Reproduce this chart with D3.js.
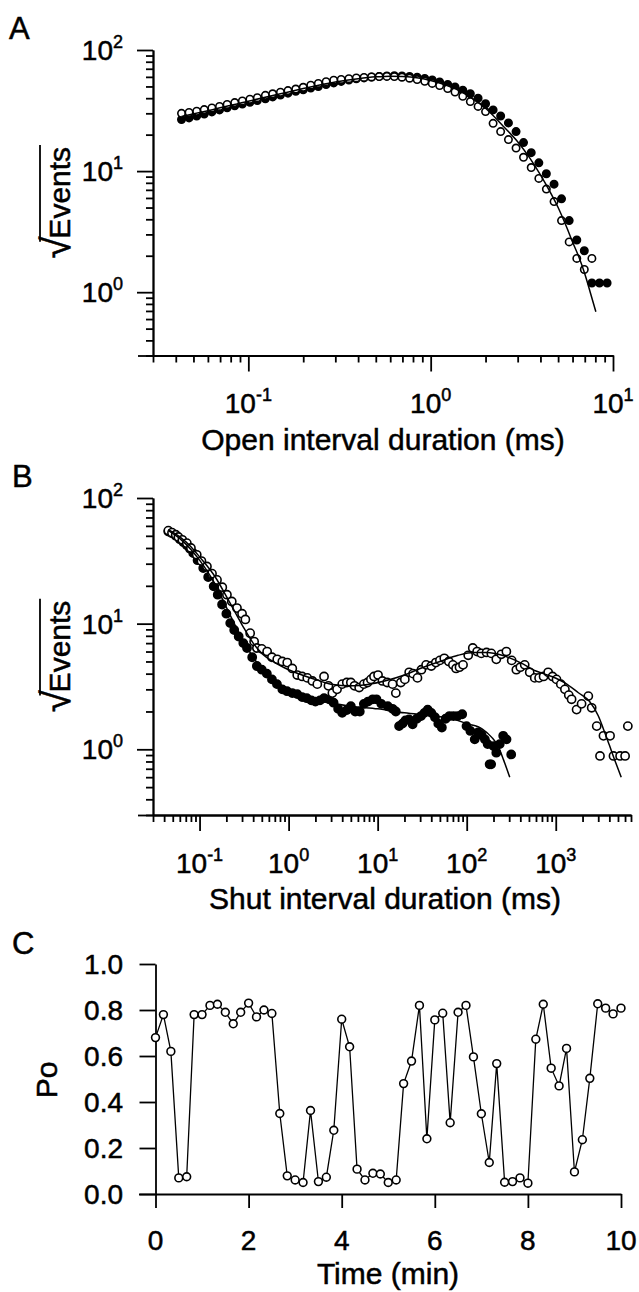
<!DOCTYPE html>
<html>
<head>
<meta charset="utf-8">
<script src="https://cdn.jsdelivr.net/npm/d3@7"></script>
<style>
  body { margin: 0; background: #fff; }
  text { font-family: "Liberation Sans", Arial, Helvetica, sans-serif; fill: #000;
         stroke: #000; stroke-width: 0.5px; }
</style>
</head>
<body>
<svg id="chart" width="639" height="1292"></svg>
<script>
// ---- panel A: open intervals ----
const aBins = [0.043,0.0473,0.0521,0.0573,0.0631,0.0695,0.0765,0.0842,0.0927,0.102,
  0.112,0.124,0.136,0.150,0.165,0.182,0.200,0.220,0.242,0.267,
  0.294,0.323,0.356,0.391,0.431,0.474,0.522,0.575,0.632,0.696,
  0.766,0.843,0.928,1.02,1.12,1.24,1.36,1.50,1.65,1.82,
  2.00,2.20,2.42,2.67,2.94,3.23,3.56,3.92,4.31,4.75,
  5.22,5.75,6.33,6.96,7.66,8.43,9.28];
const aOpen = [30,30.5,31.2,32.2,33.2,34.2,35.5,36.8,38.0,39.2,
  40.4,42.2,43.5,44.8,46.2,47.6,49.2,51.2,53.0,54.8,
  56.3,57.2,58.0,58.8,59.4,59.9,60.3,60.5,60.3,59.6,
  58.5,57.0,55.2,53.0,50.8,48.0,45.0,41.5,37.5,34.2,
  31.0,24.8,21.2,18.2,15.5,13.0,10.7,8.7,7.1,5.6,
  3.9,2.6,1.9,1.54,1.9,null,null];
const aFilled = [26.7,27.5,28.5,29.6,30.8,32.0,33.3,34.6,35.8,37.0,
  38.2,39.6,41.0,42.5,44.0,45.6,47.0,48.5,50.0,51.8,
  53.5,55.0,56.5,57.8,58.8,59.8,60.5,61.0,61.3,61.0,
  60.5,59.5,58.2,56.5,54.5,52.0,49.5,46.5,43.5,40.0,
  36.0,32.0,28.5,25.0,21.2,17.2,14.2,11.7,9.5,7.8,
  5.9,3.9,2.7,2.2,1.19,1.19,1.19];
const aFitX = [0.043,0.06,0.1,0.15,0.2,0.3,0.4,0.5,0.6,0.7,0.8,1.0,1.2,1.5,2.0,2.5,3.0,3.5,4.0,4.5,5.0,5.5,6.0,6.5,7.0,7.5,8.05];
const aFitY = [28.3,31.5,37.8,43.5,48,54.5,58,60,60.8,60.5,59.5,56,51.5,44.5,33,23.5,17.5,12.8,9.3,6.8,5.0,3.6,2.6,1.95,1.42,1.0,0.69];
const aXMajor = [0.1, 1, 10];

// ---- panel B: shut intervals ----
const bOpenX = [0.0446,0.049,0.054,0.0578,0.064,0.072,0.08,0.093,0.105,0.121,
  0.138,0.157,0.18,0.203,0.23,0.263,0.3,0.327,0.37,0.41,
  0.44,0.5,0.574,0.65,0.745,0.85,0.965,1.1,1.25,1.42,
  1.62,1.85,2.1,2.5,2.8,3.1,3.5,4.0,4.5,5.0,
  5.5,6.2,7.0,7.7,8.4,9.1,10.1,11.3,12.8,14.7,
  16,18.2,20.2,22.6,25,28,31,35,40,45,
  50,56,63,70,76,83,91,104,117,131,
  146,167,189,215,245,279,320,361,400,448,
  510,581,650,730,822,920,1020,1140,1267,1400,
  1506,1714,1950,2322,2533,2885,3140,3434,4074,4450,
  5280,6010,6450];
const bOpenY = [55,53,51,49,46.5,43.7,40,35.3,31.5,28.5,
  25,22.3,19.5,17,15,13.3,12,10.8,8.4,7.2,
  6.4,6.3,6.0,5.4,5.2,5.0,4.9,4.4,3.9,3.8,
  3.7,3.5,3.3,3.8,3.2,2.8,3.0,3.3,3.4,3.4,
  3.2,3.1,3.3,3.4,3.6,3.8,3.9,3.5,3.4,3.3,
  2.8,3.4,3.6,4.1,4.0,3.7,4.3,4.7,4.6,4.9,
  5.1,5.3,5.0,4.7,4.4,4.5,4.7,5.6,6.4,6.0,
  5.8,5.9,5.8,5.2,5.7,6.0,5.1,4.3,4.5,4.7,
  4.1,3.7,3.7,3.8,4.1,3.8,3.6,3.3,3.0,2.7,
  2.5,2.07,2.3,2.65,2.14,1.53,0.885,1.28,1.28,0.885,
  0.885,0.885,1.53];
const bFilledX = [0.0446,0.049,0.054,0.06,0.066,0.072,0.078,0.085,0.095,0.11,
  0.125,0.144,0.16,0.179,0.2,0.221,0.245,0.275,0.31,0.341,
  0.39,0.44,0.5,0.57,0.65,0.74,0.85,0.96,1.1,1.25,
  1.42,1.6,1.8,2.0,2.25,2.5,2.85,3.2,3.6,4.0,
  4.5,5.0,5.6,6.3,7.0,7.8,8.8,9.7,11,13,
  14.7,16,17.4,19,20.5,22.5,24.7,27.5,30.7,33.5,
  36.5,40,44,48,52.6,58,64,71,79,89,
  99.5,110,123,134,147,160,172,181,188,200,
  215,235,257,280,316];
const bFilledY = [54,52.5,50,47,44.5,42,39.5,36.4,32,27.7,
  23.5,19.8,17,14.2,12,10.1,8.9,7.9,7.0,6.4,
  5.4,4.6,4.3,4.0,3.6,3.3,3.0,2.9,2.8,2.75,
  2.6,2.55,2.45,2.4,2.45,2.55,2.5,2.35,2.1,1.95,
  2.05,2.2,2.0,2.0,2.3,2.4,2.5,2.5,2.3,2.2,
  2.1,2.0,1.53,1.6,1.7,1.73,1.58,1.75,1.84,1.95,
  2.07,1.95,1.8,1.6,1.49,1.75,1.84,1.84,1.84,1.9,
  1.53,1.4,1.2,1.36,1.3,1.2,1.1,0.76,0.76,1.06,
  0.94,1.1,1.28,1.2,0.91];
const bOpenFitX = [0.0446,0.06,0.08,0.1,0.15,0.2,0.3,0.4,0.5,0.7,1,2,3,5,8,12,20,30,50,80,120,170,250,400,600,900,1268,1795,2400,3000,3500,4000,4600,5430];
const bOpenFitY = [56,49,41,34,23.5,16.5,9.8,7.0,5.8,4.9,4.3,3.6,3.3,3.2,3.3,3.5,3.9,4.4,5.0,5.6,5.9,5.9,5.6,4.9,4.2,3.8,3.38,2.82,2.4,1.85,1.4,1.08,0.82,0.6];
const bFilledFitX = [0.0446,0.06,0.08,0.1,0.15,0.2,0.3,0.4,0.5,0.7,1,2,5,10,20,40,70,100,150,190,225,260,304];
const bFilledFitY = [55,47.5,39,32,20.5,13.5,7.6,5.4,4.4,3.5,3.0,2.5,2.2,2.1,1.95,1.85,1.75,1.6,1.45,1.25,1.06,0.82,0.6];
const bXMajor = [0.1, 1, 10, 100, 1000];
const logYMajor = [1, 10, 100];

// ---- panel C: Po over time ----
const cTime = [0,0.17,0.33,0.5,0.67,0.83,1,1.17,1.33,1.5,
  1.67,1.83,2,2.17,2.33,2.5,2.67,2.83,3,3.17,
  3.33,3.5,3.67,3.83,4,4.17,4.33,4.5,4.67,4.83,
  5,5.17,5.33,5.5,5.67,5.83,6,6.17,6.33,6.5,
  6.67,6.83,7,7.17,7.33,7.5,7.67,7.83,8,8.17,
  8.33,8.5,8.67,8.83,9,9.17,9.33,9.5,9.67,9.83,10];
const cPo = [0.68,0.78,0.62,0.07,0.075,0.78,0.78,0.82,0.825,0.79,
  0.74,0.79,0.83,0.77,0.80,0.785,0.35,0.079,0.061,0.05,
  0.363,0.054,0.073,0.277,0.76,0.64,0.108,0.061,0.09,0.087,
  0.05,0.061,0.48,0.578,0.82,0.24,0.757,0.786,0.31,0.79,
  0.82,0.596,0.349,0.137,0.567,0.051,0.054,0.07,0.047,0.673,
  0.825,0.547,0.47,0.633,0.096,0.236,0.503,0.827,0.808,0.783,0.808];
const cXTicks = [0, 2, 4, 6, 8, 10];
const cYTicks = [0, 0.2, 0.4, 0.6, 0.8, 1.0];

const svg = d3.select("#chart");
const AX = 1.8;

function styleAxis(g) {
  g.selectAll("path, line").attr("stroke", "#000").attr("stroke-width", AX);
}

function isMajor(v) {
  const l = Math.log10(v);
  return Math.abs(l - Math.round(l)) < 1e-6;
}

function powLabel(sel, v) {
  sel.append("tspan").text("10");
  sel.append("tspan").attr("dy", -12).attr("font-size", 18).text(Math.round(Math.log10(v)));
}

// sqrt(Events) axis title, rotated; the radical is a larger glyph with a bar drawn over the word
function sqrtLabel(cx, cy) {
  const tr = `translate(${cx},${cy}) rotate(-90)`;
  const t = svg.append("text").attr("transform", tr)
    .attr("text-anchor", "middle").attr("font-size", 30);
  t.append("tspan").attr("font-size", 40).text("√");
  t.append("tspan").attr("dx", -2).text("Events");
  const node = t.node();
  const full = node.getComputedTextLength();
  const rw = node.getSubStringLength(0, 1);
  svg.append("line").attr("transform", tr)
    .attr("x1", -full / 2 + rw - 4).attr("x2", full / 2 + 1)
    .attr("y1", -30).attr("y2", -30)
    .attr("stroke", "#000").attr("stroke-width", AX);
}

function logPanel(p) {
  const g = svg.append("g");
  const x = d3.scaleLog().domain(p.xDomain).range(p.xRange);
  const y = d3.scaleLog().domain(p.yDomain).range(p.yRange);
  const xMinor = x.ticks().filter(v => !isMajor(v));
  const yMinor = y.ticks().filter(v => !isMajor(v));
  const x0 = p.xRange[0], yb = p.yRange[0];

  g.append("g").attr("transform", `translate(0,${yb})`)
    .call(d3.axisBottom(x).tickValues(xMinor).tickSize(7).tickSizeOuter(0).tickFormat(""))
    .call(styleAxis);
  g.append("g").attr("transform", `translate(0,${yb})`)
    .call(d3.axisBottom(x).tickValues(p.xMajor).tickSize(16).tickSizeOuter(0).tickFormat(""))
    .call(styleAxis);
  g.append("g").attr("transform", `translate(${x0},0)`)
    .call(d3.axisLeft(y).tickValues(yMinor).tickSize(7).tickSizeOuter(0).tickFormat(""))
    .call(styleAxis);
  g.append("g").attr("transform", `translate(${x0},0)`)
    .call(d3.axisLeft(y).tickValues(logYMajor).tickSize(16).tickSizeOuter(0).tickFormat(""))
    .call(styleAxis);
  g.append("line").attr("x1", x0 - 15).attr("x2", x0).attr("y1", yb + 0.5).attr("y2", yb + 0.5)
    .attr("stroke", "#000").attr("stroke-width", AX);

  p.xMajor.forEach(v => {
    g.append("text").attr("x", x(v)).attr("y", p.xLabelY)
      .attr("text-anchor", "middle").attr("font-size", 28).call(powLabel, v);
  });
  logYMajor.forEach(v => {
    g.append("text").attr("x", 123).attr("y", y(v) + 10)
      .attr("text-anchor", "end").attr("font-size", 28).call(powLabel, v);
  });

  g.append("text").attr("x", p.titleX).attr("y", p.titleY)
    .attr("text-anchor", "middle").attr("font-size", 30).text(p.title);
  g.append("text").attr("x", p.letterX).attr("y", p.letterY)
    .attr("font-size", 31).text(p.letter);

  p.series.forEach(s => {
    const pts = d3.zip(s.x, s.y).filter(d => d[1] != null);
    g.append("g").selectAll("circle").data(pts).join("circle")
      .attr("cx", d => x(d[0])).attr("cy", d => y(d[1])).attr("r", p.r)
      .attr("fill", s.filled ? "#000" : "#fff")
      .attr("stroke", "#000").attr("stroke-width", 1.6);
  });

  const line = d3.line().x(d => x(d[0])).y(d => y(d[1])).curve(d3.curveMonotoneX);
  p.fits.forEach(f => {
    g.append("path").datum(d3.zip(f.x, f.y)).attr("d", line)
      .attr("fill", "none").attr("stroke", "#000").attr("stroke-width", 1.5);
  });

  sqrtLabel(70, (p.yRange[0] + p.yRange[1]) / 2);
}

logPanel({
  xDomain: [0.03, 10], xRange: [153, 613],
  yDomain: [0.3, 100], yRange: [355.5, 50],
  xMajor: aXMajor, xLabelY: 413,
  title: "Open interval duration (ms)", titleX: 383, titleY: 450,
  letter: "A", letterX: 9, letterY: 39, r: 3.7,
  series: [
    { x: aBins, y: aFilled, filled: true },
    { x: aBins, y: aOpen, filled: false }
  ],
  fits: [{ x: aFitX, y: aFitY }]
});

logPanel({
  xDomain: [0.03, 7000], xRange: [153, 631],
  yDomain: [0.3, 100], yRange: [815, 498],
  xMajor: bXMajor, xLabelY: 873,
  title: "Shut interval duration (ms)", titleX: 385, titleY: 909,
  letter: "B", letterX: 12, letterY: 487, r: 4.1,
  series: [
    { x: bFilledX, y: bFilledY, filled: true },
    { x: bOpenX, y: bOpenY, filled: false }
  ],
  fits: [{ x: bFilledFitX, y: bFilledFitY }, { x: bOpenFitX, y: bOpenFitY }]
});

// panel C
const cg = svg.append("g");
const cx = d3.scaleLinear().domain([0, 10]).range([155.5, 621]);
const cy = d3.scaleLinear().domain([0, 1]).range([1194, 964]);

cg.append("g").attr("transform", "translate(0,1194)")
  .call(d3.axisBottom(cx).tickValues(cXTicks).tickSize(14).tickSizeOuter(0).tickFormat(""))
  .call(styleAxis);
cg.append("g").attr("transform", "translate(155.5,0)")
  .call(d3.axisLeft(cy).tickValues(cYTicks).tickSize(16).tickSizeOuter(0).tickFormat(""))
  .call(styleAxis);
cg.append("line").attr("x1", 139).attr("x2", 155.5).attr("y1", 1194.5).attr("y2", 1194.5)
  .attr("stroke", "#000").attr("stroke-width", AX);

cXTicks.forEach(v => {
  cg.append("text").attr("x", cx(v)).attr("y", 1250).attr("text-anchor", "middle")
    .attr("font-size", 28).text(d3.format("d")(v));
});
cYTicks.forEach(v => {
  cg.append("text").attr("x", 123).attr("y", cy(v) + 10).attr("text-anchor", "end")
    .attr("font-size", 28).text(d3.format(".1f")(v));
});

const cData = d3.zip(cTime, cPo);
cg.append("path").datum(cData)
  .attr("d", d3.line().x(d => cx(d[0])).y(d => cy(d[1])))
  .attr("fill", "none").attr("stroke", "#000").attr("stroke-width", 1.3);
cg.selectAll("circle").data(cData).join("circle")
  .attr("cx", d => cx(d[0])).attr("cy", d => cy(d[1])).attr("r", 3.9)
  .attr("fill", "#fff").attr("stroke", "#000").attr("stroke-width", 1.6);

cg.append("text").attr("x", 388).attr("y", 1284).attr("text-anchor", "middle")
  .attr("font-size", 30).text("Time (min)");
cg.append("text").attr("transform", "translate(57,1080) rotate(-90)")
  .attr("text-anchor", "middle").attr("font-size", 30).text("Po");
cg.append("text").attr("x", 12).attr("y", 954).attr("font-size", 31).text("C");
</script>
</body>
</html>
